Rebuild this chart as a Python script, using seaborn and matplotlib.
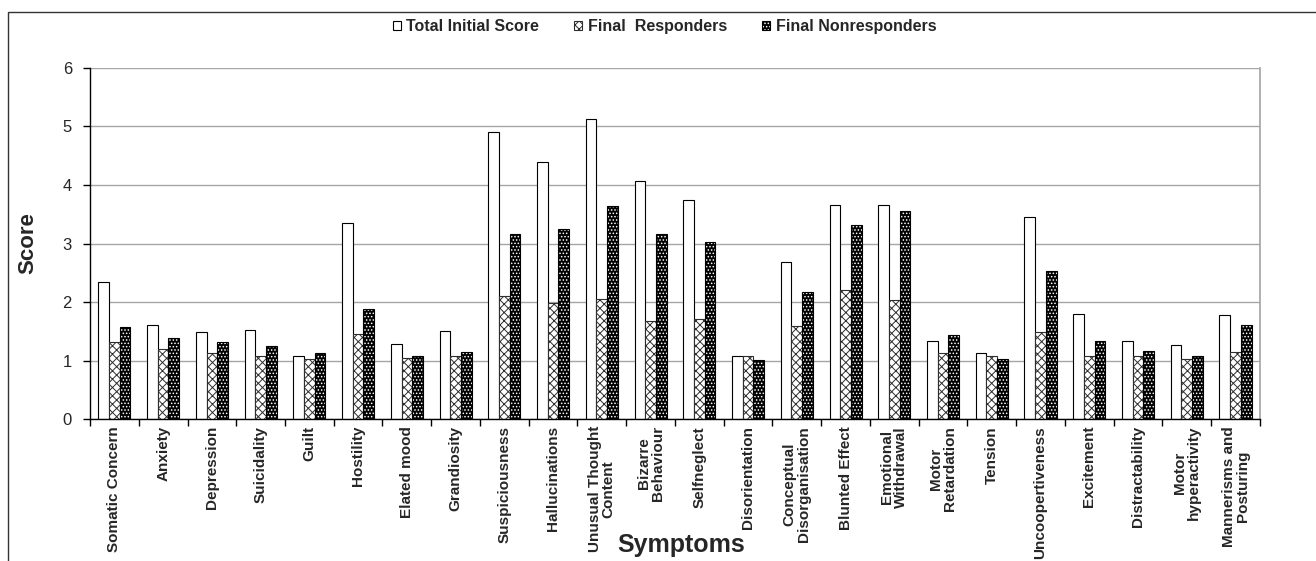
import numpy as np
import pandas as pd
import matplotlib
matplotlib.use('Agg')
import matplotlib.pyplot as plt
from matplotlib.patches import Rectangle
import seaborn as sns

# Данни (отчетени от графиката)
symptoms = ['Somatic Concern', 'Anxiety', 'Depression', 'Suicidality', 'Guilt',
            'Hostility', 'Elated mood', 'Grandiosity', 'Suspiciousness',
            'Hallucinations', 'Unusual Thought\nContent', 'Bizarre\nBehaviour',
            'Selfneglect', 'Disorientation', 'Conceptual\nDisorganisation',
            'Blunted Effect', 'Emotional\nWithdrawal', 'Motor\nRetardation',
            'Tension', 'Uncoopertiveness', 'Excitement', 'Distractability',
            'Motor\nhyperactivity', 'Mannerisms and\nPosturing']

total_initial = [2.35, 1.61, 1.48, 1.52, 1.07, 3.35, 1.29, 1.51, 4.91,
                 4.39, 5.12, 4.06, 3.74, 1.07, 2.69, 3.65, 3.65, 1.34,
                 1.13, 3.45, 1.80, 1.34, 1.27, 1.77]
final_resp = [1.32, 1.19, 1.13, 1.08, 1.03, 1.45, 1.05, 1.08, 2.10,
              1.98, 2.05, 1.67, 1.71, 1.07, 1.59, 2.20, 2.04, 1.12,
              1.07, 1.48, 1.07, 1.08, 1.03, 1.15]
final_nonresp = [1.58, 1.38, 1.32, 1.24, 1.12, 1.88, 1.07, 1.15, 3.17,
                 3.25, 3.64, 3.17, 3.02, 1.01, 2.17, 3.31, 3.55, 1.43,
                 1.03, 2.53, 1.33, 1.17, 1.07, 1.61]

groups = ['Total Initial Score', 'Final  Responders', 'Final Nonresponders']

df = pd.DataFrame({
    'symptom': symptoms * 3,
    'group': np.repeat(groups, len(symptoms)),
    'score': total_initial + final_resp + final_nonresp,
})

sns.set_theme(style='white')
plt.rcParams['font.family'] = ['Liberation Sans', 'DejaVu Sans']
plt.rcParams['hatch.linewidth'] = 0.7

fig = plt.figure(figsize=(13.16, 5.61), dpi=100)
ax = fig.add_axes([0.0684, 0.2531, 0.889, 0.6257])

sns.barplot(data=df, x='symptom', y='score', hue='group', order=symptoms,
            hue_order=groups, width=0.66, gap=0, dodge=True, ax=ax,
            legend=False, errorbar=None, linewidth=0.8)

# Стил на колоните
styles = [
    dict(face='white', edge='black', hatch=None, hcol=None),
    dict(face='white', edge='#2e2e2e', hatch='xxxx', hcol=None),
    dict(face='black', edge='black', hatch='.....', hcol=(1, 1, 1, 1)),
]
for cont, st in zip(ax.containers, styles):
    for bar in cont:
        bar.set_facecolor(st['face'])
        bar.set_edgecolor(st['edge'])
        bar.set_linewidth(0.8)
        if st['hatch']:
            bar.set_hatch(st['hatch'])
        if st['hcol'] is not None:
            bar._hatch_color = st['hcol']

ax.set_ylim(0, 6)
ax.set_yticks(range(0, 7))
ax.set_xlim(-0.5, len(symptoms) - 0.5)
ax.yaxis.grid(True, color='#a6a6a6', lw=1)
ax.set_axisbelow(True)

for side in ['left', 'bottom']:
    ax.spines[side].set_color('black')
    ax.spines[side].set_linewidth(1)
ax.spines['top'].set_visible(False)
ax.spines['right'].set_color('#a6a6a6')

ax.tick_params(axis='y', which='major', left=True, length=5, width=1,
               color='black', pad=8, labelsize=12)
ax.set_xticks(np.arange(len(symptoms)))
ax.set_xticks(np.arange(len(symptoms) + 1) - 0.5, minor=True)
ax.tick_params(axis='x', which='major', bottom=False, length=0, pad=5)
ax.tick_params(axis='x', which='minor', bottom=True, length=5, width=1,
               color='black')
ax.set_xticklabels(symptoms, rotation=90, fontsize=11, fontweight='bold',
                   ha='center', va='top', linespacing=1.0)

ax.set_ylabel('Score', fontsize=16, fontweight='bold')
ax.yaxis.set_label_coords(-0.044, 0.5)
ax.set_xlabel('Symptoms', fontsize=18, fontweight='bold')
ax.xaxis.set_label_coords(0.505, -0.36)
ax.xaxis.label.set_va('center')

# Легенда
handles = list(ax.containers)
leg = fig.legend(handles, groups, loc='center', bbox_to_anchor=(0.505, 0.952),
                 ncol=3, frameon=False, handlelength=0.5,
                 handleheight=0.5, handletextpad=0.35, columnspacing=2.2,
                 prop={'weight': 'bold', 'size': 11.5})

# Рамка на графиката
fig.patches.append(Rectangle((8 / 1316, -0.1), 1.2, 1 - 12 / 561 + 0.1,
                             transform=fig.transFigure, fill=False,
                             edgecolor='#333333', lw=1))

plt.savefig('out.png', dpi=100)
